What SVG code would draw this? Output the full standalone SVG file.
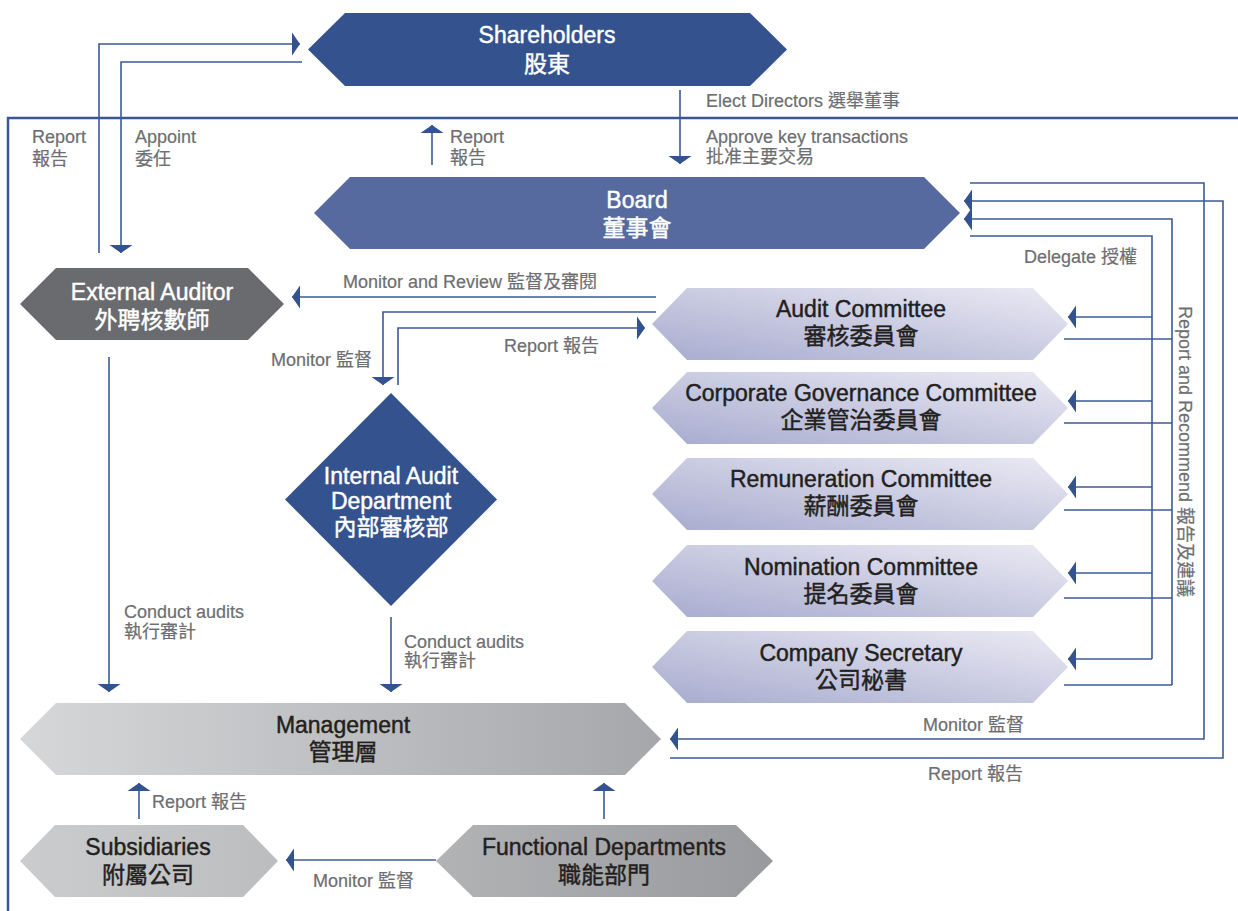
<svg xmlns="http://www.w3.org/2000/svg" width="1238" height="911" viewBox="0 0 1238 911">
<defs>
<style>
.t{font-family:"Liberation Sans","Noto Sans CJK TC",sans-serif;font-size:23px;text-anchor:middle;stroke-width:0.45px}
.w{fill:#ffffff;stroke:#ffffff}
.d{fill:#231f20;stroke:#231f20}
.l{font-family:"Liberation Sans","Noto Sans CJK TC",sans-serif;font-size:18px;fill:#6d6e71;stroke:#6d6e71;stroke-width:0.2px}
.c{fill:none;stroke:#3c5a96;stroke-width:1.6}
.frame{fill:none;stroke:#3a5795;stroke-width:2.5}
</style>
<linearGradient id="gc" x1="0" y1="1" x2="1" y2="0">
<stop offset="0" stop-color="#a7abce"/>
<stop offset="1" stop-color="#ebeaf4"/>
</linearGradient>
<linearGradient id="gm" x1="0" y1="0" x2="1" y2="0">
<stop offset="0" stop-color="#d6d7d9"/>
<stop offset="1" stop-color="#a6a7aa"/>
</linearGradient>
<linearGradient id="gs" x1="0" y1="0" x2="1" y2="0">
<stop offset="0" stop-color="#cbccce"/>
<stop offset="1" stop-color="#bcbdbf"/>
</linearGradient>
<linearGradient id="gf" x1="0" y1="0" x2="1" y2="0">
<stop offset="0" stop-color="#b2b3b5"/>
<stop offset="1" stop-color="#999a9d"/>
</linearGradient>
<marker id="ah" markerUnits="userSpaceOnUse" markerWidth="12" markerHeight="26" viewBox="-9 -13 12 26" refX="0" refY="0" orient="auto">
<path d="M-8,-11.5 L0,0 L-8,11.5 Z" fill="#34538e"/>
</marker>
</defs>

<!-- frame -->
<path class="frame" d="M8,911 V118 H1238"/>

<!-- nodes -->
<g id="shareholders">
<path d="M345,13 L750,13 L787,49.5 L750,86 L345,86 L308,49.5 Z" fill="#34538e"/>
<text class="t w" x="547" y="43">Shareholders</text>
<text class="t w" x="547" y="72">股東</text>
</g>
<g id="board">
<path d="M350,177 L924,177 L960,213 L924,249 L350,249 L314,213 Z" fill="#566a9f"/>
<text class="t w" x="637" y="208">Board</text>
<text class="t w" x="637" y="236">董事會</text>
</g>
<g id="external-auditor">
<path d="M56,268 L248,268 L284,304 L248,340 L56,340 L20,304 Z" fill="#6a6b6e"/>
<text class="t w" x="152" y="300">External Auditor</text>
<text class="t w" x="152" y="328">外聘核數師</text>
</g>
<g id="internal-audit">
<path d="M391,393 L497,499.5 L391,606 L285,499.5 Z" fill="#34538e"/>
<text class="t w" x="391" y="484">Internal Audit</text>
<text class="t w" x="391" y="509">Department</text>
<text class="t w" x="391" y="535">內部審核部</text>
</g>
<g id="audit-committee">
<path d="M687,288 L1033,288 L1068,324 L1033,360 L687,360 L652,324 Z" fill="url(#gc)"/>
<text class="t d" x="861" y="317">Audit Committee</text>
<text class="t d" x="861" y="344">審核委員會</text>
</g>
<g id="cg-committee">
<path d="M687,372 L1033,372 L1068,408 L1033,444 L687,444 L652,408 Z" fill="url(#gc)"/>
<text class="t d" x="861" y="401">Corporate Governance Committee</text>
<text class="t d" x="861" y="428">企業管治委員會</text>
</g>
<g id="remuneration-committee">
<path d="M687,458 L1033,458 L1068,494 L1033,530 L687,530 L652,494 Z" fill="url(#gc)"/>
<text class="t d" x="861" y="487">Remuneration Committee</text>
<text class="t d" x="861" y="514">薪酬委員會</text>
</g>
<g id="nomination-committee">
<path d="M687,545 L1033,545 L1068,581 L1033,617 L687,617 L652,581 Z" fill="url(#gc)"/>
<text class="t d" x="861" y="575">Nomination Committee</text>
<text class="t d" x="861" y="602">提名委員會</text>
</g>
<g id="company-secretary">
<path d="M687,631 L1033,631 L1068,667 L1033,703 L687,703 L652,667 Z" fill="url(#gc)"/>
<text class="t d" x="861" y="661">Company Secretary</text>
<text class="t d" x="861" y="688">公司秘書</text>
</g>
<g id="management">
<path d="M56,703 L625,703 L661,739 L625,775 L56,775 L20,739 Z" fill="url(#gm)"/>
<text class="t d" x="343" y="733">Management</text>
<text class="t d" x="343" y="760">管理層</text>
</g>
<g id="subsidiaries">
<path d="M55,825 L243,825 L278,861 L243,897 L55,897 L20,861 Z" fill="url(#gs)"/>
<text class="t d" x="148" y="855">Subsidiaries</text>
<text class="t d" x="148" y="883">附屬公司</text>
</g>
<g id="functional-departments">
<path d="M473,825 L736,825 L773,861 L736,897 L473,897 L436,861 Z" fill="url(#gf)"/>
<text class="t d" x="604" y="855">Functional Departments</text>
<text class="t d" x="604" y="883">職能部門</text>
</g>

<!-- connectors -->
<g id="connectors">
<path class="c" d="M99,253 V44 H300" marker-end="url(#ah)"/>
<path class="c" d="M302,62 H121 V253" marker-end="url(#ah)"/>
<path class="c" d="M680,90 V164" marker-end="url(#ah)"/>
<path class="c" d="M432,165 V125" marker-end="url(#ah)"/>
<path class="c" d="M970,183 H1204 V739 H670" marker-end="url(#ah)"/>
<path class="c" d="M670,758 H1223 V201 H964" marker-end="url(#ah)"/>
<path class="c" d="M1172,685 V219 H964" marker-end="url(#ah)"/>
<path class="c" d="M970,236 H1152 V659"/>
<path class="c" d="M1152,317 H1068" marker-end="url(#ah)"/>
<path class="c" d="M1152,401 H1068" marker-end="url(#ah)"/>
<path class="c" d="M1152,487 H1068" marker-end="url(#ah)"/>
<path class="c" d="M1152,573 H1068" marker-end="url(#ah)"/>
<path class="c" d="M1152,659 H1068" marker-end="url(#ah)"/>
<path class="c" d="M1064,339 H1172"/>
<path class="c" d="M1064,423 H1172"/>
<path class="c" d="M1064,510 H1172"/>
<path class="c" d="M1064,598 H1172"/>
<path class="c" d="M1064,685 H1172"/>
<path class="c" d="M656,297 H292" marker-end="url(#ah)"/>
<path class="c" d="M656,312 H383 V385" marker-end="url(#ah)"/>
<path class="c" d="M398,385 V328 H645" marker-end="url(#ah)"/>
<path class="c" d="M109,357 V692" marker-end="url(#ah)"/>
<path class="c" d="M391,617 V692" marker-end="url(#ah)"/>
<path class="c" d="M139,819 V783" marker-end="url(#ah)"/>
<path class="c" d="M604,819 V783" marker-end="url(#ah)"/>
<path class="c" d="M436,860 H286" marker-end="url(#ah)"/>
</g>

<!-- labels -->
<g id="labels">
<text class="l" x="32" y="143">Report</text>
<text class="l" x="32" y="165">報告</text>
<text class="l" x="135" y="143">Appoint</text>
<text class="l" x="135" y="165">委任</text>
<text class="l" x="706" y="107">Elect Directors 選舉董事</text>
<text class="l" x="706" y="143">Approve key transactions</text>
<text class="l" x="706" y="163">批准主要交易</text>
<text class="l" x="450" y="143">Report</text>
<text class="l" x="450" y="164">報告</text>
<text class="l" x="1024" y="263">Delegate 授權</text>
<text class="l" transform="translate(1179,306) rotate(90)">Report and Recommend 報告及建議</text>
<text class="l" x="343" y="288">Monitor and Review 監督及審閱</text>
<text class="l" x="271" y="366">Monitor 監督</text>
<text class="l" x="504" y="352">Report 報告</text>
<text class="l" x="124" y="618">Conduct audits</text>
<text class="l" x="124" y="638">執行審計</text>
<text class="l" x="404" y="648">Conduct audits</text>
<text class="l" x="404" y="667">執行審計</text>
<text class="l" x="923" y="731">Monitor 監督</text>
<text class="l" x="928" y="780">Report 報告</text>
<text class="l" x="152" y="808">Report 報告</text>
<text class="l" x="313" y="887">Monitor 監督</text>
</g>
</svg>
